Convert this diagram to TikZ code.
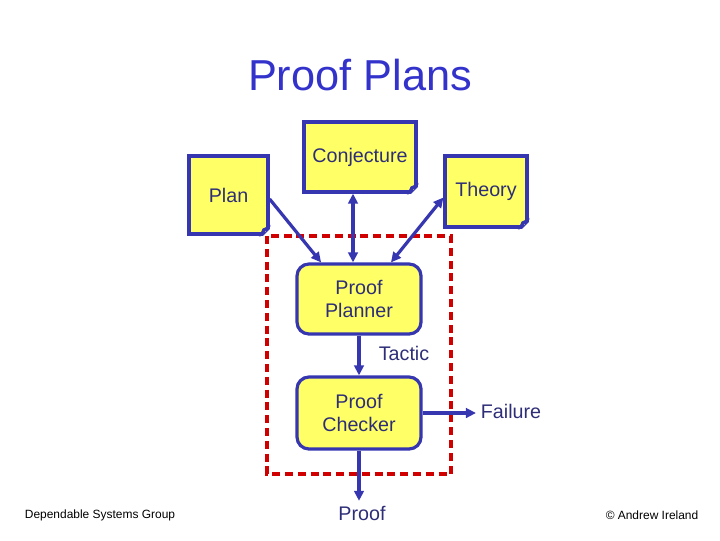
\documentclass[tikz,border=0pt]{standalone}
\usepackage{fontspec}
\setmainfont{Liberation Sans}
\usetikzlibrary{arrows.meta,calc}

\definecolor{noteyellow}{HTML}{FFFF66}
\definecolor{boxblue}{HTML}{3636B0}
\definecolor{textblue}{HTML}{2E2E78}
\definecolor{titleblue}{HTML}{3333CC}
\definecolor{dashred}{HTML}{D00000}

\begin{document}
\begin{tikzpicture}[
    x=0.025cm, y=-0.025cm,
    every node/.style={font=\fontsize{14pt}{16.4pt}\selectfont, text=textblue},
    note/.style={rectangle, fill=noteyellow, draw=boxblue, line width=0.08cm, align=center},
    stage/.style={rectangle, rounded corners=0.3cm, fill=noteyellow, draw=boxblue,
      line width=0.08cm, align=center, minimum width=3.1cm},
    flow/.style={draw=boxblue, line width=0.08cm, -{Triangle[length=0.25cm,width=0.24cm]}},
    both/.style={flow, {Triangle[length=0.25cm,width=0.24cm]}-{Triangle[length=0.25cm,width=0.24cm]}},
    footer/.style={font=\fontsize{8.5pt}{10pt}\selectfont, text=black}
  ]
  \useasboundingbox (0,0) rectangle (720,540);

  % Title
  \node[font=\fontsize{30.8pt}{36pt}\selectfont, text=titleblue] (title) at (360,75) {Proof Plans};

  % Inputs (folded notes)
  \node[note, minimum width=2.8cm, minimum height=1.75cm] (conj) at (360,157) {Conjecture};
  \node[note, minimum width=1.975cm, minimum height=1.95cm] (plan) at (228.5,195) {Plan};
  \node[note, minimum width=2.05cm, minimum height=1.775cm] (theory) at (486,191.5) {Theory};

  \foreach \n in {conj,plan,theory} {
    \fill[white] ($(\n.south east)+(-9,3)$) -- ($(\n.south east)+(3,3)$) -- ($(\n.south east)+(3,-9)$) -- cycle;
    \fill[boxblue] ($(\n.south east)+(-10,0)$) -- ($(\n.south east)+(0,-10)$) -- ($(\n.south east)+(-7,-7)$) -- cycle;
    \draw[boxblue, line width=0.06cm, line cap=round] ($(\n.south east)+(-10,0)$) -- ($(\n.south east)+(0,-10)$);
  }

  % Proof system
  \draw[dashred, line width=0.08cm, dash pattern=on 0.2cm off 0.12cm] (267,236) rectangle (451,474);

  \node[stage, minimum height=1.75cm] (planner) at (359,299) {Proof\\Planner};
  \node[stage, minimum height=1.8cm] (checker) at (359,413) {Proof\\Checker};

  \node (tactic) at (404,353) {Tactic};
  \node (failure) at (511,411) {Failure};
  \node (proof) at (362,513) {Proof};

  % Connectors
  \draw[flow] ($(plan.east)+(0,4)$) -- (planner.136);
  \draw[both] (planner.north -| 353,0) -- (conj.south -| 353,0);
  \draw[both] (planner.north -| 391,0) -- ($(theory.west)+(0,6)$);
  \draw[flow] (planner.south) -- (checker.north);
  \draw[flow] (checker.east) -- (checker.east -| failure.west);
  \draw[flow] (checker.south) -- (checker.south |- proof.north);

  % Footer
  \node[footer] (group) at (100,515) {Dependable Systems Group};
  \node[footer] (author) at (652,515) {\textcopyright{} Andrew Ireland};
\end{tikzpicture}
\end{document}
